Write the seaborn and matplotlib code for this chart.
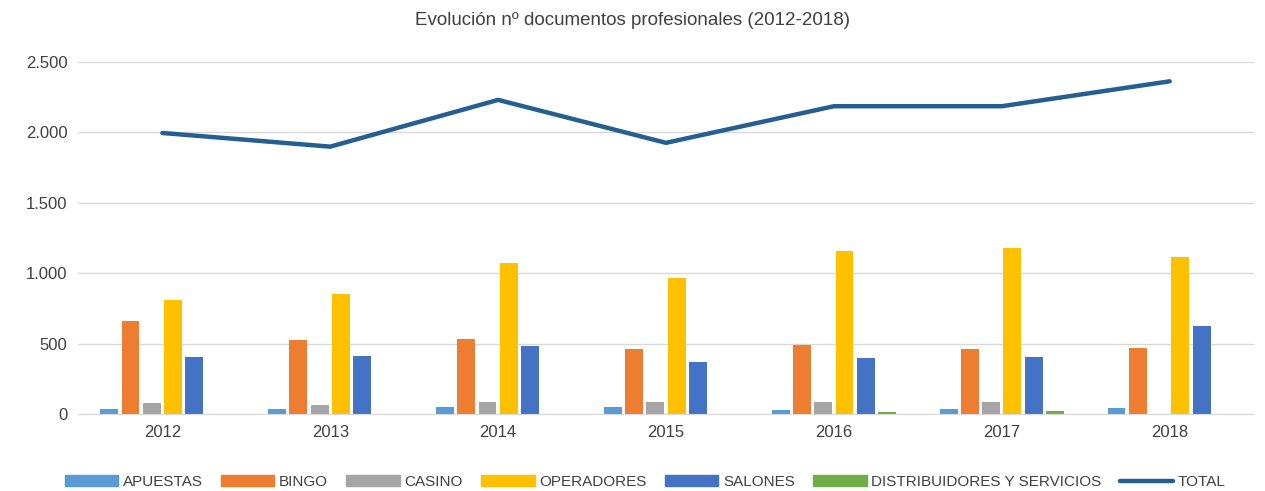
import pandas as pd
import seaborn as sns
import matplotlib.pyplot as plt
from matplotlib.ticker import FuncFormatter

YEARS = ["2012", "2013", "2014", "2015", "2016", "2017", "2018"]
APUESTAS = [36, 35, 50, 50, 25, 35, 45]
BINGO = [662, 525, 532, 462, 490, 462, 468]
CASINO = [80, 65, 88, 88, 88, 88, 0]
OPERADORES = [810, 852, 1072, 966, 1158, 1180, 1112]
SALONES = [405, 412, 483, 370, 398, 405, 625]
DISTRIBUIDORES = [0, 0, 0, 0, 12, 20, 0]
TOTAL = [1995, 1898, 2230, 1925, 2185, 2185, 2362]

SERIES = ["APUESTAS", "BINGO", "CASINO", "OPERADORES", "SALONES", "DISTRIBUIDORES Y SERVICIOS"]
COLORS = ["#5B9BD5", "#ED7D31", "#A5A5A5", "#FFC000", "#4472C4", "#70AD47"]
TOTAL_COLOR = "#255E91"

sns.set_style("white")
plt.rcParams['font.family'] = ['Liberation Sans', 'DejaVu Sans']

rows = []
for name, vals in zip(SERIES, [APUESTAS, BINGO, CASINO, OPERADORES, SALONES, DISTRIBUIDORES]):
    for y, v in zip(YEARS, vals):
        rows.append({"year": y, "serie": name, "valor": v})
df = pd.DataFrame(rows)

fig = plt.figure(figsize=(12.65, 4.91), dpi=100)
ax = fig.add_axes([0.062, 0.157, 0.929, 0.717])

sns.barplot(data=df, x="year", y="valor", hue="serie", hue_order=SERIES,
            palette=COLORS, saturation=1, width=0.76, gap=0.16, ax=ax, legend=False,
            linewidth=0)
sns.lineplot(x=list(range(len(YEARS))), y=TOTAL, color=TOTAL_COLOR, linewidth=3.2, ax=ax)

ax.set_ylim(0, 2500)
ax.set_xlim(-0.5, len(YEARS) - 0.5)
ax.set_yticks(range(0, 2501, 500))
ax.yaxis.set_major_formatter(FuncFormatter(lambda v, p: f"{int(v):,}".replace(",", ".")))
ax.grid(axis="y", color="#D9D9D9", linewidth=1)
ax.set_axisbelow(True)
for s in ["top", "right", "left"]:
    ax.spines[s].set_visible(False)
ax.spines["bottom"].set_color("#D9D9D9")
ax.tick_params(axis="both", length=0, labelsize=12, colors="#404040", pad=8)
ax.set_xlabel("")
ax.set_ylabel("")

fig.suptitle("Evolución nº documentos profesionales (2012-2018)", y=0.975, fontsize=13.5, color="#404040")

handles = [plt.Rectangle((0, 0), 1, 1, color=c) for c in COLORS]
handles.append(plt.Line2D([0], [0], color=TOTAL_COLOR, linewidth=3.2))
fig.legend(handles, SERIES + ["TOTAL"], loc="center", bbox_to_anchor=(0.51, 0.018), ncol=7,
           frameon=False, fontsize=11, labelcolor="#404040", handlelength=3.5,
           handletextpad=0.3, columnspacing=1.2)

fig.savefig("out.png", dpi=100)
